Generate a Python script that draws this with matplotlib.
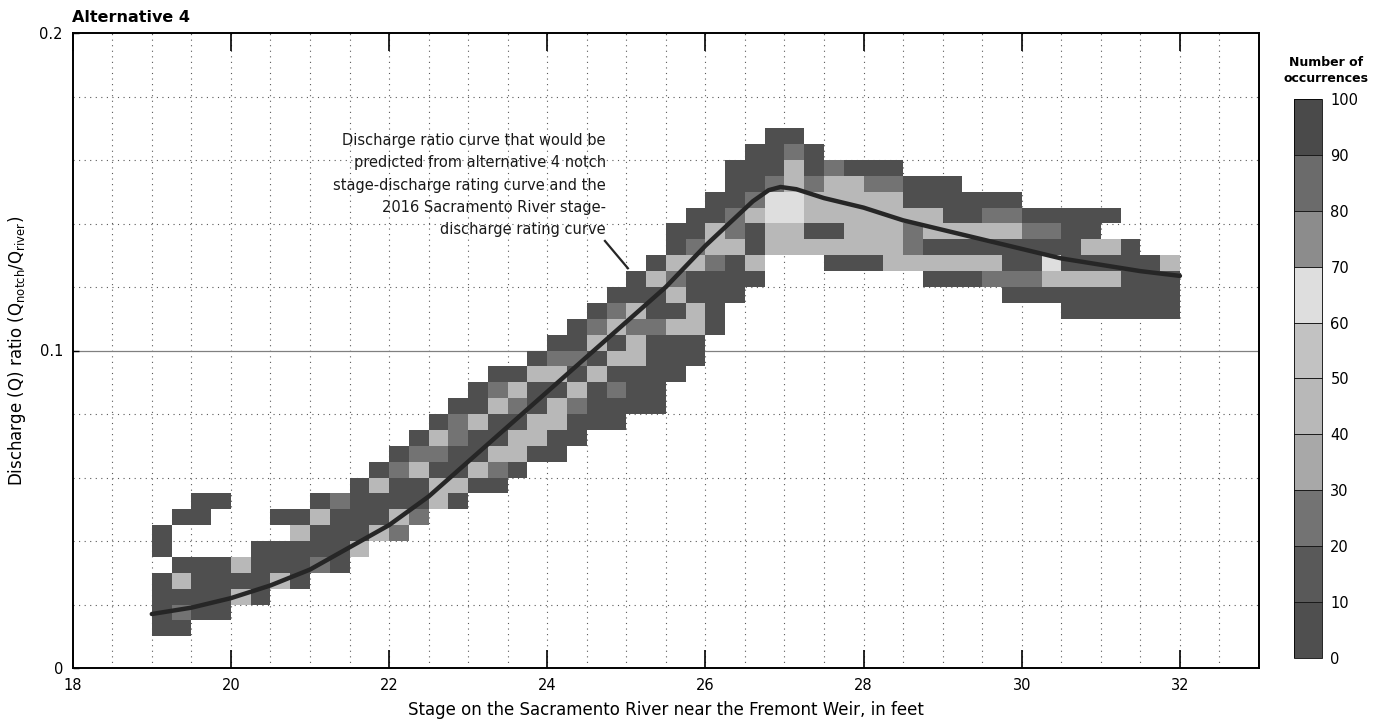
import numpy as np
import matplotlib
matplotlib.use("Agg")
import matplotlib.pyplot as plt
from matplotlib.colors import ListedColormap, BoundaryNorm

# ---------------------------------------------------------------- data
# 2-D histogram bins: stage 19-32 ft in 0.25 ft steps, ratio in 0.005 steps
stage_first_edge = 19.0
stage_bin = 0.25
ratio_bin = 0.005
n_rows = 34

# per stage column: index of lowest occupied ratio bin, then counts upward
# (0 = empty bin)
col_start = [2, 2, 3, 3, 4, 4, 5, 5, 6, 6,
             7, 8, 8, 9, 10, 10, 11, 11, 12, 13,
             13, 14, 15, 15, 16, 16, 18, 19, 21, 23,
             24, 26, 26, 26, 25, 25, 25, 25, 25, 24,
             24, 24, 24, 23, 23, 23, 22, 22, 22, 22,
             22, 22]
col_counts = [
    [8, 8, 8, 8, 0, 8, 8],
    [8, 25, 8, 45, 8, 0, 0, 8],
    [8, 8, 8, 8, 0, 0, 8, 8],
    [8, 8, 8, 8, 0, 0, 0, 8],
    [45, 8, 45],
    [8, 8, 8, 8],
    [45, 8, 8, 0, 8],
    [8, 8, 8, 45, 8],
    [25, 8, 8, 45, 8],
    [8, 8, 8, 8, 25],
    [45, 8, 8, 8, 8],
    [45, 8, 8, 45, 8],
    [25, 45, 8, 8, 25, 8],
    [25, 8, 8, 45, 25, 8],
    [45, 45, 8, 25, 45, 8],
    [8, 45, 8, 8, 25, 25, 8],
    [8, 45, 8, 8, 45, 8, 8],
    [8, 25, 45, 8, 8, 45, 25, 8],
    [8, 45, 45, 8, 25, 45, 8],
    [8, 45, 45, 8, 8, 45, 8],
    [8, 8, 45, 45, 8, 45, 25, 8],
    [8, 8, 25, 45, 8, 25, 8, 8],
    [8, 8, 8, 45, 8, 45, 25, 8],
    [8, 8, 25, 8, 45, 8, 45, 25, 8],
    [8, 8, 8, 45, 45, 25, 45, 8, 8],
    [8, 8, 8, 8, 8, 25, 8, 8, 45, 8],
    [8, 8, 8, 45, 8, 45, 25, 45, 8, 8],
    [8, 8, 45, 45, 8, 8, 45, 25, 8, 8],
    [8, 8, 8, 8, 25, 45, 45, 8, 8],
    [8, 8, 8, 45, 25, 25, 8, 8, 8],
    [8, 45, 8, 8, 45, 25, 8, 8, 8],
    [45, 45, 65, 65, 25, 8, 8, 8],
    [45, 45, 65, 65, 45, 45, 25, 8],
    [45, 8, 45, 45, 25, 8, 8],
    [8, 45, 8, 45, 45, 45, 25],
    [8, 45, 45, 45, 45, 45, 8],
    [8, 45, 45, 45, 45, 25, 8],
    [45, 45, 45, 45, 45, 25, 8],
    [45, 25, 25, 45, 8, 8],
    [8, 45, 8, 45, 45, 8, 8],
    [8, 45, 8, 45, 8, 8, 8],
    [8, 45, 8, 45, 8, 8],
    [25, 45, 8, 45, 25, 8],
    [8, 25, 8, 8, 45, 25, 8],
    [8, 25, 8, 8, 25, 8],
    [8, 45, 65, 8, 25, 8],
    [8, 8, 45, 8, 8, 8, 8],
    [8, 8, 45, 8, 45, 8, 8],
    [8, 8, 45, 8, 45, 0, 8],
    [8, 8, 8, 8, 8],
    [8, 8, 8, 8],
    [8, 8, 8, 45],
]

# predicted discharge-ratio curve
curve_stage = [19.0, 19.5, 20.0, 20.5, 21.0, 21.5, 22.0, 22.5, 23.0, 23.5,
               24.0, 24.5, 25.0, 25.5, 26.0, 26.3, 26.6, 26.8, 26.95, 27.15,
               27.5, 28.0, 28.5, 29.0, 29.5, 30.0, 30.5, 31.0, 31.5, 32.0]
curve_ratio = [0.017, 0.019, 0.022, 0.026, 0.031, 0.038, 0.045, 0.054, 0.065, 0.076,
               0.087, 0.098, 0.109, 0.120, 0.133, 0.140, 0.147, 0.1505, 0.1515, 0.1508,
               0.148, 0.145, 0.141, 0.138, 0.135, 0.132, 0.129, 0.127, 0.125, 0.1235]

note_lines = ["Discharge ratio curve that would be",
              "predicted from alternative 4 notch",
              "stage-discharge rating curve and the",
              "2016 Sacramento River stage-",
              "discharge rating curve"]

cbar_ticks = [0, 10, 20, 30, 40, 50, 60, 70, 80, 90, 100]
x_ticks = [18, 20, 22, 24, 26, 28, 30, 32]
y_ticks = [0, 0.1, 0.2]
y_ticklabels = ["0", "0.1", "0.2"]

# ---------------------------------------------------------------- grid
n_cols = len(col_counts)
grid = np.zeros((n_rows, n_cols))
for c, (s, vals) in enumerate(zip(col_start, col_counts)):
    grid[s:s + len(vals), c] = vals
grid = np.ma.masked_equal(grid, 0)
x_edges = stage_first_edge + stage_bin * np.arange(n_cols + 1)
y_edges = ratio_bin * np.arange(n_rows + 1)

# grayscale rendering of the original colour ramp (dark-light-dark)
band_grays = [0.31, 0.35, 0.45, 0.66, 0.72, 0.76, 0.87, 0.55, 0.42, 0.29]
cmap = ListedColormap([str(g) for g in band_grays])
norm = BoundaryNorm(cbar_ticks, cmap.N)

# ---------------------------------------------------------------- figure
W, H = 1390, 724
fig = plt.figure(figsize=(W / 100, H / 100), dpi=100)
ax = fig.add_axes([72.7 / W, 1 - 668 / H, (1259 - 72.7) / W, (668 - 33) / H])

mesh = ax.pcolormesh(x_edges, y_edges, grid, cmap=cmap, norm=norm,
                     edgecolors="none", zorder=2)

# grid: dotted every 0.5 ft and every 0.02, solid at 0.1
dot = (0, (1, 4))
for xv in np.arange(18.5, 33, 0.5):
    ax.axvline(xv, color="0.35", lw=0.8, ls=dot, zorder=1)
for yv in np.arange(0.02, 0.2, 0.02):
    if abs(yv - 0.1) < 1e-9:
        ax.axhline(yv, color="0.5", lw=0.9, zorder=1)
    else:
        ax.axhline(yv, color="0.35", lw=0.8, ls=dot, zorder=1)

ax.plot(curve_stage, curve_ratio, color="#262626", lw=3.2,
        solid_capstyle="round", solid_joinstyle="round", zorder=4)

# annotation
note_y = [0.1660, 0.1591, 0.1521, 0.1449, 0.1380]
for txt, yv in zip(note_lines, note_y):
    ax.text(24.74, yv, txt, ha="right", va="center", fontsize=10.5,
            color="0.1", zorder=5)
ax.plot([24.73, 25.02], [0.1345, 0.1259], color="0.15", lw=1.6, zorder=5)

ax.set_xlim(18, 33)
ax.set_ylim(0, 0.2)
ax.set_xticks(x_ticks)
ax.set_yticks(y_ticks)
ax.set_yticklabels(y_ticklabels)
ax.tick_params(axis="x", direction="in", length=13, width=1.2, top=True,
               labelsize=10.5, pad=7)
ax.tick_params(axis="y", direction="in", length=4, width=1.0,
               labelsize=10.5, pad=7)
for sp in ax.spines.values():
    sp.set_linewidth(1.4)

ax.set_xlabel("Stage on the Sacramento River near the Fremont Weir, in feet",
              fontsize=12, labelpad=6)
ax.set_ylabel(r"Discharge (Q) ratio (Q$_\mathregular{notch}$/Q$_\mathregular{river}$)",
              fontsize=12, labelpad=8)

fig.text(72 / W, 1 - 17 / H, "Alternative 4", fontsize=11.5, fontweight="bold",
         ha="left", va="center")

# colorbar
cax = fig.add_axes([1294 / W, 1 - 658 / H, 28 / W, (658 - 99) / H])
cb = fig.colorbar(mesh, cax=cax, ticks=cbar_ticks, drawedges=True)
cb.outline.set_linewidth(0.6)
cb.dividers.set_color("0.1")
cb.dividers.set_linewidth(0.7)
cax.tick_params(length=0, labelsize=10.5, pad=6)
fig.text(1326 / W, 1 - 62 / H, "Number of", fontsize=9, fontweight="bold",
         ha="center", va="center")
fig.text(1326 / W, 1 - 79 / H, "occurrences", fontsize=9, fontweight="bold",
         ha="center", va="center")

fig.savefig("out.png", dpi=100)
